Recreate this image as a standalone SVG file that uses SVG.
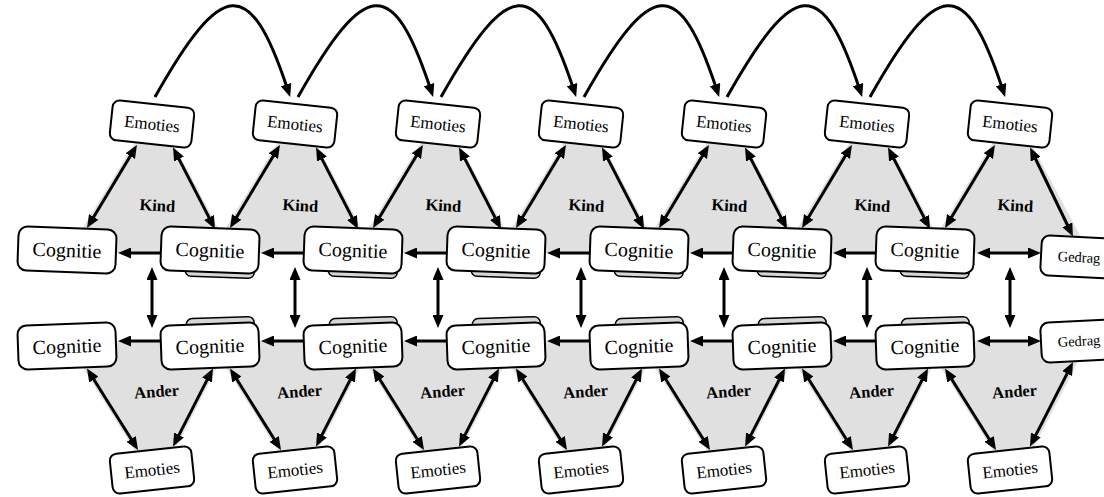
<svg xmlns="http://www.w3.org/2000/svg" width="1104" height="497" viewBox="0 0 1104 497">
  <defs>
    <style>
      .box{fill:#fff;stroke:#000;stroke-width:2}
      .shadow{fill:#d6d6d6;stroke:#000;stroke-width:1.5}
      .tri{fill:#e0e0e0}
      .one{fill:none;stroke:#000;stroke-width:3;marker-end:url(#ah)}
      .two{fill:none;stroke:#000;stroke-width:3;marker-start:url(#ah);marker-end:url(#ah)}
      .cog,.emo,.ged,.grp{text-anchor:middle;fill:#000}
      .cog{font-size:20px}
      .emo{font-size:17px}
      .ged{font-size:14.5px}
      .grp{font-size:16.5px;font-weight:bold}
    </style>
    <marker id="ah" viewBox="0 0 13 11" refX="3" refY="5.5" markerWidth="13" markerHeight="11" markerUnits="userSpaceOnUse" orient="auto-start-reverse">
      <path d="M0,0 L13,5.5 L0,11 z" fill="#000"/>
    </marker>
    <!-- shaded triangles for one Kind/Ander pair -->
    <g id="triTop"><polygon class="tri" points="136.5,140 171.4,140 231.3,253 67.6,253"/></g>
    <g id="triBot"><polygon class="tri" points="66.3,341 230.5,341 170.5,458 139.5,458"/></g>
  </defs>

  <!-- shaded areas with their labels -->
  <g id="areas">
    <g id="kind-1"><use href="#triTop"/><text class="grp" font-family="Liberation Serif" transform="translate(157,211) rotate(3)">Kind</text></g>
    <g id="kind-2" transform="translate(143,0)"><use href="#triTop"/><text class="grp" font-family="Liberation Serif" transform="translate(157,211) rotate(3)">Kind</text></g>
    <g id="kind-3" transform="translate(286,0)"><use href="#triTop"/><text class="grp" font-family="Liberation Serif" transform="translate(157,211) rotate(3)">Kind</text></g>
    <g id="kind-4" transform="translate(429,0)"><use href="#triTop"/><text class="grp" font-family="Liberation Serif" transform="translate(157,211) rotate(3)">Kind</text></g>
    <g id="kind-5" transform="translate(572,0)"><use href="#triTop"/><text class="grp" font-family="Liberation Serif" transform="translate(157,211) rotate(3)">Kind</text></g>
    <g id="kind-6" transform="translate(715,0)"><use href="#triTop"/><text class="grp" font-family="Liberation Serif" transform="translate(157,211) rotate(3)">Kind</text></g>
    <g id="kind-7" transform="translate(858,0)"><use href="#triTop"/><text class="grp" font-family="Liberation Serif" transform="translate(157,211) rotate(3)">Kind</text></g>

    <g id="ander-1"><use href="#triBot"/><text class="grp" font-family="Liberation Serif" transform="translate(157,397) rotate(-4)">Ander</text></g>
    <g id="ander-2" transform="translate(143,0)"><use href="#triBot"/><text class="grp" font-family="Liberation Serif" transform="translate(157,397) rotate(-4)">Ander</text></g>
    <g id="ander-3" transform="translate(286,0)"><use href="#triBot"/><text class="grp" font-family="Liberation Serif" transform="translate(157,397) rotate(-4)">Ander</text></g>
    <g id="ander-4" transform="translate(429,0)"><use href="#triBot"/><text class="grp" font-family="Liberation Serif" transform="translate(157,397) rotate(-4)">Ander</text></g>
    <g id="ander-5" transform="translate(572,0)"><use href="#triBot"/><text class="grp" font-family="Liberation Serif" transform="translate(157,397) rotate(-4)">Ander</text></g>
    <g id="ander-6" transform="translate(715,0)"><use href="#triBot"/><text class="grp" font-family="Liberation Serif" transform="translate(157,397) rotate(-4)">Ander</text></g>
    <g id="ander-7" transform="translate(858,0)"><use href="#triBot"/><text class="grp" font-family="Liberation Serif" transform="translate(157,397) rotate(-4)">Ander</text></g>
  </g>

  <!-- connectors: one repeated set per time step -->
  <defs>
    <g id="stepArrows">
      <path class="two" d="M131.8,153.5 L92.2,219.5"/>
      <path class="two" d="M92.3,377 L132.7,441.5"/>
      <path class="two" d="M152,277 L152,318"/>
    </g>
    <g id="stepRight">
      <path class="two" d="M177.6,156.4 L210.4,220.1"/>
      <path class="two" d="M208.4,377.4 L177.6,437.6"/>
      <path class="one" d="M165,253 L128,253"/>
      <path class="one" d="M165,341 L128,341"/>
      <path class="one" d="M155,97 C222,-22 250,-24 287,87.5"/>
    </g>
  </defs>
  <g id="connectors">
    <g transform="translate(0,0)"><use href="#stepArrows"/><use href="#stepRight"/></g>
    <g transform="translate(143,0)"><use href="#stepArrows"/><use href="#stepRight"/></g>
    <g transform="translate(286,0)"><use href="#stepArrows"/><use href="#stepRight"/></g>
    <g transform="translate(429,0)"><use href="#stepArrows"/><use href="#stepRight"/></g>
    <g transform="translate(572,0)"><use href="#stepArrows"/><use href="#stepRight"/></g>
    <g transform="translate(715,0)"><use href="#stepArrows"/><use href="#stepRight"/></g>
    <g transform="translate(858,0)">
      <use href="#stepArrows"/>
      <path class="two" d="M176.4,156.5 L210.6,227.5"/>
      <path class="two" d="M210.5,370.9 L176.5,437.6"/>
      <path class="two" d="M129,253 L173,253"/>
      <path class="two" d="M129,341 L173,341"/>
    </g>
  </g>

  <!-- Emoties, child side -->
  <g id="emo-kind-1" transform="translate(152,124) rotate(6)"><rect class="box" x="-41" y="-20" width="82" height="40" rx="7"/><text class="emo" font-family="Liberation Serif" y="5.6">Emoties</text></g>
  <g id="emo-kind-2" transform="translate(295,124) rotate(6)"><rect class="box" x="-41" y="-20" width="82" height="40" rx="7"/><text class="emo" font-family="Liberation Serif" y="5.6">Emoties</text></g>
  <g id="emo-kind-3" transform="translate(438,124) rotate(6)"><rect class="box" x="-41" y="-20" width="82" height="40" rx="7"/><text class="emo" font-family="Liberation Serif" y="5.6">Emoties</text></g>
  <g id="emo-kind-4" transform="translate(581,124) rotate(6)"><rect class="box" x="-41" y="-20" width="82" height="40" rx="7"/><text class="emo" font-family="Liberation Serif" y="5.6">Emoties</text></g>
  <g id="emo-kind-5" transform="translate(724,124) rotate(6)"><rect class="box" x="-41" y="-20" width="82" height="40" rx="7"/><text class="emo" font-family="Liberation Serif" y="5.6">Emoties</text></g>
  <g id="emo-kind-6" transform="translate(867,124) rotate(6)"><rect class="box" x="-41" y="-20" width="82" height="40" rx="7"/><text class="emo" font-family="Liberation Serif" y="5.6">Emoties</text></g>
  <g id="emo-kind-7" transform="translate(1010,124) rotate(6)"><rect class="box" x="-41" y="-20" width="82" height="40" rx="7"/><text class="emo" font-family="Liberation Serif" y="5.6">Emoties</text></g>

  <!-- Emoties, other side -->
  <g id="emo-ander-1" transform="translate(152,470) rotate(-6)"><rect class="box" x="-41" y="-20" width="82" height="40" rx="7"/><text class="emo" font-family="Liberation Serif" y="5.6">Emoties</text></g>
  <g id="emo-ander-2" transform="translate(295,470) rotate(-6)"><rect class="box" x="-41" y="-20" width="82" height="40" rx="7"/><text class="emo" font-family="Liberation Serif" y="5.6">Emoties</text></g>
  <g id="emo-ander-3" transform="translate(438,470) rotate(-6)"><rect class="box" x="-41" y="-20" width="82" height="40" rx="7"/><text class="emo" font-family="Liberation Serif" y="5.6">Emoties</text></g>
  <g id="emo-ander-4" transform="translate(581,470) rotate(-6)"><rect class="box" x="-41" y="-20" width="82" height="40" rx="7"/><text class="emo" font-family="Liberation Serif" y="5.6">Emoties</text></g>
  <g id="emo-ander-5" transform="translate(724,470) rotate(-6)"><rect class="box" x="-41" y="-20" width="82" height="40" rx="7"/><text class="emo" font-family="Liberation Serif" y="5.6">Emoties</text></g>
  <g id="emo-ander-6" transform="translate(867,470) rotate(-6)"><rect class="box" x="-41" y="-20" width="82" height="40" rx="7"/><text class="emo" font-family="Liberation Serif" y="5.6">Emoties</text></g>
  <g id="emo-ander-7" transform="translate(1010,470) rotate(-6)"><rect class="box" x="-41" y="-20" width="82" height="40" rx="7"/><text class="emo" font-family="Liberation Serif" y="5.6">Emoties</text></g>

  <!-- Cognitie, child side -->
  <g id="cog-kind-0" transform="translate(67,250) rotate(2)"><rect class="box" x="-49" y="-22" width="98" height="44" rx="9"/><text class="cog" font-family="Liberation Serif" y="7">Cognitie</text></g>
  <g id="cog-kind-1" transform="translate(210,250) rotate(2)"><rect class="shadow" x="-24" y="-18" width="69" height="45" rx="6"/><rect class="box" x="-49" y="-22" width="98" height="44" rx="9"/><text class="cog" font-family="Liberation Serif" y="7">Cognitie</text></g>
  <g id="cog-kind-2" transform="translate(353,250) rotate(2)"><rect class="shadow" x="-24" y="-18" width="69" height="45" rx="6"/><rect class="box" x="-49" y="-22" width="98" height="44" rx="9"/><text class="cog" font-family="Liberation Serif" y="7">Cognitie</text></g>
  <g id="cog-kind-3" transform="translate(496,250) rotate(2)"><rect class="shadow" x="-24" y="-18" width="69" height="45" rx="6"/><rect class="box" x="-49" y="-22" width="98" height="44" rx="9"/><text class="cog" font-family="Liberation Serif" y="7">Cognitie</text></g>
  <g id="cog-kind-4" transform="translate(639,250) rotate(2)"><rect class="shadow" x="-24" y="-18" width="69" height="45" rx="6"/><rect class="box" x="-49" y="-22" width="98" height="44" rx="9"/><text class="cog" font-family="Liberation Serif" y="7">Cognitie</text></g>
  <g id="cog-kind-5" transform="translate(782,250) rotate(2)"><rect class="shadow" x="-24" y="-18" width="69" height="45" rx="6"/><rect class="box" x="-49" y="-22" width="98" height="44" rx="9"/><text class="cog" font-family="Liberation Serif" y="7">Cognitie</text></g>
  <g id="cog-kind-6" transform="translate(925,250) rotate(2)"><rect class="shadow" x="-24" y="-18" width="69" height="45" rx="6"/><rect class="box" x="-49" y="-22" width="98" height="44" rx="9"/><text class="cog" font-family="Liberation Serif" y="7">Cognitie</text></g>

  <!-- Cognitie, other side -->
  <g id="cog-ander-0" transform="translate(67,346) rotate(-2)"><rect class="box" x="-49" y="-22" width="98" height="44" rx="9"/><text class="cog" font-family="Liberation Serif" y="7">Cognitie</text></g>
  <g id="cog-ander-1" transform="translate(210,346) rotate(-2)"><rect class="shadow" x="-23" y="-28" width="68" height="45" rx="6"/><rect class="box" x="-49" y="-22" width="98" height="44" rx="9"/><text class="cog" font-family="Liberation Serif" y="7">Cognitie</text></g>
  <g id="cog-ander-2" transform="translate(353,346) rotate(-2)"><rect class="shadow" x="-23" y="-28" width="68" height="45" rx="6"/><rect class="box" x="-49" y="-22" width="98" height="44" rx="9"/><text class="cog" font-family="Liberation Serif" y="7">Cognitie</text></g>
  <g id="cog-ander-3" transform="translate(496,346) rotate(-2)"><rect class="shadow" x="-23" y="-28" width="68" height="45" rx="6"/><rect class="box" x="-49" y="-22" width="98" height="44" rx="9"/><text class="cog" font-family="Liberation Serif" y="7">Cognitie</text></g>
  <g id="cog-ander-4" transform="translate(639,346) rotate(-2)"><rect class="shadow" x="-23" y="-28" width="68" height="45" rx="6"/><rect class="box" x="-49" y="-22" width="98" height="44" rx="9"/><text class="cog" font-family="Liberation Serif" y="7">Cognitie</text></g>
  <g id="cog-ander-5" transform="translate(782,346) rotate(-2)"><rect class="shadow" x="-23" y="-28" width="68" height="45" rx="6"/><rect class="box" x="-49" y="-22" width="98" height="44" rx="9"/><text class="cog" font-family="Liberation Serif" y="7">Cognitie</text></g>
  <g id="cog-ander-6" transform="translate(925,346) rotate(-2)"><rect class="shadow" x="-23" y="-28" width="68" height="45" rx="6"/><rect class="box" x="-49" y="-22" width="98" height="44" rx="9"/><text class="cog" font-family="Liberation Serif" y="7">Cognitie</text></g>

  <!-- Gedrag (behaviour) at the last step -->
  <g id="gedrag-kind" transform="translate(1079,257) rotate(3)"><rect class="box" x="-38" y="-20" width="76" height="40" rx="8"/><text class="ged" font-family="Liberation Serif" y="5">Gedrag</text></g>
  <g id="gedrag-ander" transform="translate(1079,341) rotate(-3)"><rect class="box" x="-38" y="-20" width="76" height="40" rx="8"/><text class="ged" font-family="Liberation Serif" y="5">Gedrag</text></g>
</svg>
